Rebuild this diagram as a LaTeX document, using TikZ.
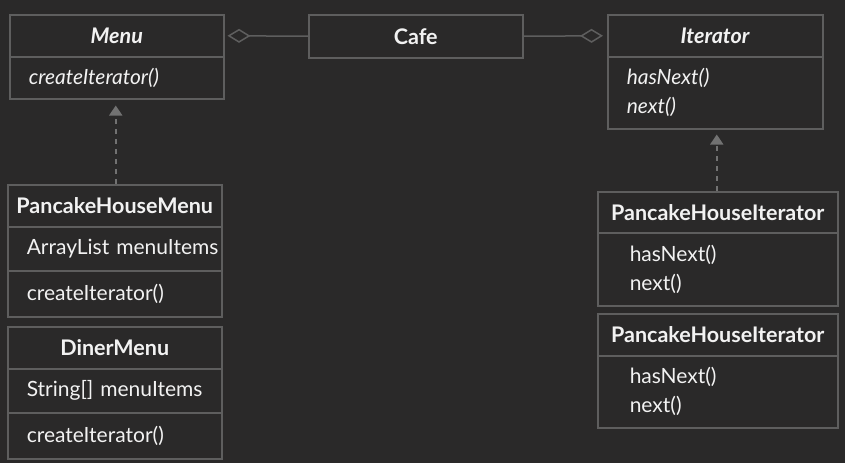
\documentclass[tikz,border=0pt]{standalone}
\usepackage{fontspec}
\setmainfont{Lato}
\usetikzlibrary{arrows.meta,calc}
\definecolor{bgc}{HTML}{2A2929}
\definecolor{linec}{HTML}{5E5E5E}
\definecolor{arrc}{HTML}{727272}
\definecolor{txtc}{HTML}{F2F2F2}
\tikzset{
  comp/.style={draw=linec, line width=1.5pt, rectangle, anchor=north west,
    text=txtc, font=\fontsize{21}{29}\selectfont, inner ysep=0pt},
  titlebox/.style={comp, align=center, font=\fontsize{21.5}{29}\selectfont\bfseries},
  bodybox/.style={comp, align=left},
  realize/.style={draw=arrc, line width=1.5pt, dash pattern=on 5pt off 5pt,
    -{Triangle[width=13pt,length=10pt]}},
  aggr/.style={draw=linec, line width=1.5pt,
    -{Diamond[open,length=23pt,width=14pt,line width=1.5pt]}}
}
\begin{document}
\begin{tikzpicture}[x=1pt,y=-1pt]
\fill[bgc] (0,0) rectangle (845,463);
\useasboundingbox (0,0) rectangle (845,463);
% Menu
\node[titlebox, minimum width=214pt, minimum height=42pt] (menuT) at (9,14) {\textit{Menu}};
\node[bodybox, minimum width=214pt, minimum height=42pt, text width=176pt, inner xsep=19pt] (menuB) at (9,56) {\textit{createIterator()}};
% Cafe
\node[titlebox, minimum width=214pt, minimum height=43pt] (cafe) at (308,14) {Cafe};
% Iterator
\node[titlebox, minimum width=215pt, minimum height=42pt] (itT) at (607,14) {\textit{Iterator}};
\node[bodybox, minimum width=215pt, minimum height=72pt, text width=177pt, inner xsep=19pt] (itB) at (607,56) {\textit{hasNext()}\\\textit{next()}};
% PancakeHouseMenu
\node[titlebox, minimum width=214pt, minimum height=42pt] (phmT) at (7,184) {PancakeHouseMenu};
\node[bodybox, minimum width=214pt, minimum height=44pt, text width=176pt, inner xsep=19pt] (phmA) at (7,226) {\makebox[176pt][l]{ArrayList menuItems}};
\node[bodybox, minimum width=214pt, minimum height=46pt, text width=176pt, inner xsep=19pt] (phmB) at (7,270) {createIterator()};
% DinerMenu
\node[titlebox, minimum width=214pt, minimum height=42pt] (dmT) at (7,326) {DinerMenu};
\node[bodybox, minimum width=214pt, minimum height=44pt, text width=176pt, inner xsep=19pt] (dmA) at (7,368) {\makebox[176pt][l]{String[] menuItems}};
\node[bodybox, minimum width=214pt, minimum height=46pt, text width=176pt, inner xsep=19pt] (dmB) at (7,412) {createIterator()};
% PancakeHouseIterator 1
\node[titlebox, minimum width=240pt, minimum height=41pt] (phi1T) at (597,191) {PancakeHouseIterator};
\node[bodybox, minimum width=240pt, minimum height=73pt, text width=176pt, inner xsep=32pt] (phi1B) at (597,232) {hasNext()\\next()};
% PancakeHouseIterator 2
\node[titlebox, minimum width=240pt, minimum height=42pt] (phi2T) at (597,313) {PancakeHouseIterator};
\node[bodybox, minimum width=240pt, minimum height=72pt, text width=176pt, inner xsep=32pt] (phi2B) at (597,355) {hasNext()\\next()};
% connectors
\draw[aggr, shorten >=3pt] (cafe.west) -- (menuT.east);
\draw[aggr, shorten >=4pt] (cafe.east) -- (itT.west);
\draw[realize, shorten >=6pt] ([xshift=1pt]phmT.north) -- ([xshift=1pt]phmT.north |- menuB.south);
\draw[realize, shorten >=5pt] ([xshift=-1pt]phi1T.north) -- ([xshift=-1pt]phi1T.north |- itB.south);
\end{tikzpicture}
\end{document}
